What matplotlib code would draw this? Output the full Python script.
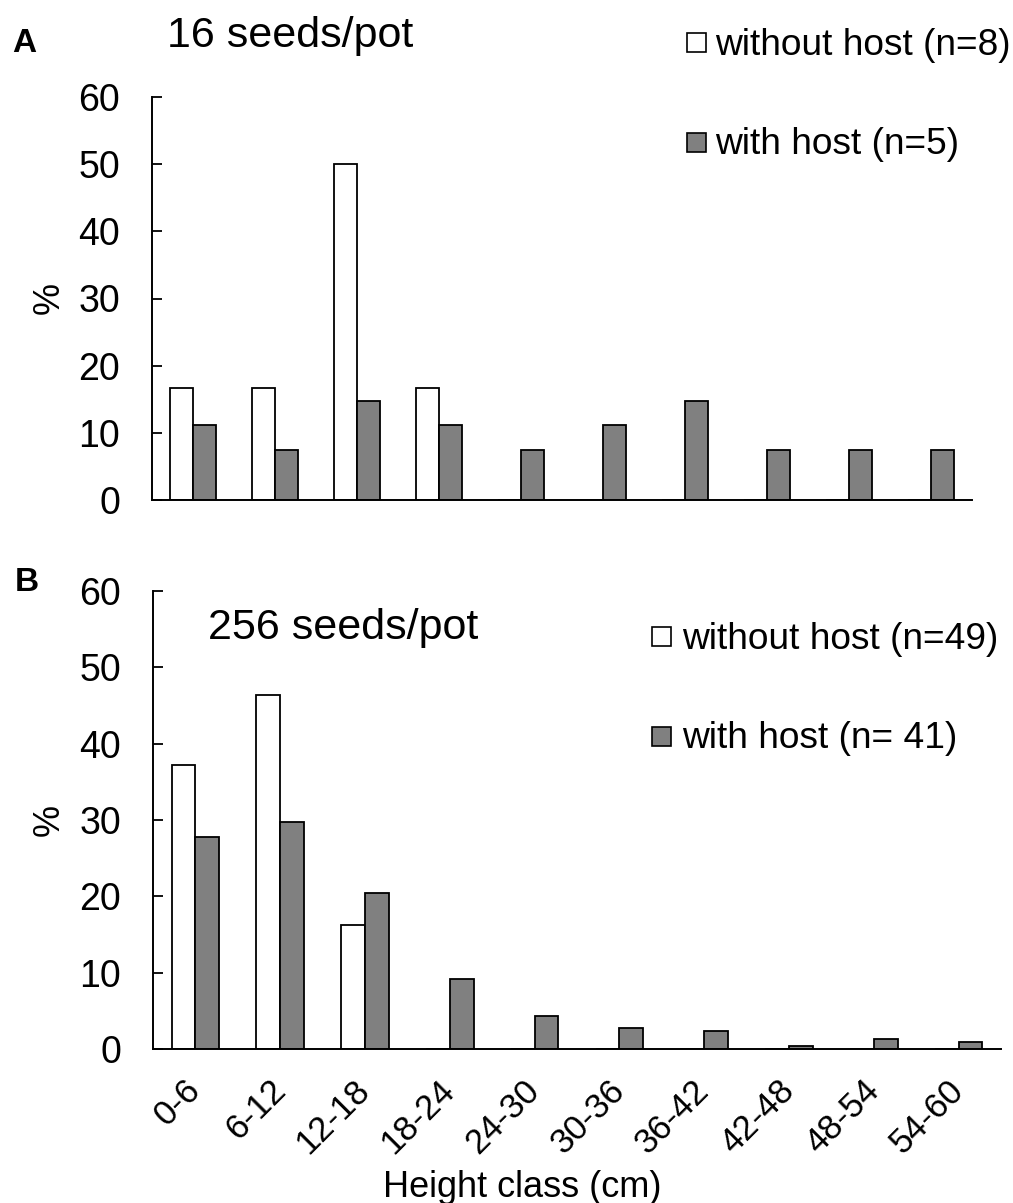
import numpy as np
import matplotlib
matplotlib.use("Agg")
import matplotlib.pyplot as plt
from matplotlib.patches import Rectangle

plt.rcParams['font.family'] = ['Liberation Sans', 'DejaVu Sans']

# Height classes (cm)
classes = ["0-6", "6-12", "12-18", "18-24", "24-30",
           "30-36", "36-42", "42-48", "48-54", "54-60"]

# 16 seeds/pot: % of plants per height class
low_without = [16.7, 16.7, 50.0, 16.7, 0, 0, 0, 0, 0, 0]
low_with = [11.1, 7.4, 14.8, 11.1, 7.4, 11.1, 14.8, 7.4, 7.4, 7.4]

# 256 seeds/pot: % of plants per height class
high_without = [37.2, 46.4, 16.2, 0, 0, 0, 0, 0, 0, 0]
high_with = [27.8, 29.7, 20.5, 9.2, 4.3, 2.8, 2.4, 0.4, 1.35, 0.9]

legend_low = ["without host (n=8)", "with host (n=5)"]
legend_high = ["without host (n=49)", "with host (n= 41)"]

W, H = 1013, 1203
DPI = 100
fig = plt.figure(figsize=(W / DPI, H / DPI), dpi=DPI)


def fx(x):
    return x / W


def fy(y):
    return 1 - y / H


WHITE = "white"
GREY = "#808080"
BAR_W = 0.28
LW = 1.3


def draw_panel(ax, without, with_host):
    x = np.arange(len(classes))
    ax.bar(x - BAR_W / 2, without, BAR_W, color=WHITE, edgecolor="black", linewidth=LW)
    ax.bar(x + BAR_W / 2, with_host, BAR_W, color=GREY, edgecolor="black", linewidth=LW)
    ax.set_xlim(-0.5, len(classes) - 0.5)
    ax.set_ylim(0, 60)
    ax.set_yticks(np.arange(0, 61, 10))
    ax.spines["top"].set_visible(False)
    ax.spines["right"].set_visible(False)
    ax.spines["left"].set_linewidth(1.4)
    ax.spines["bottom"].set_linewidth(1.4)
    ax.tick_params(axis="y", direction="in", length=7, width=1.3, pad=23, labelsize=27)
    ax.tick_params(axis="x", length=0)
    ax.set_xticks(x)


axA = fig.add_axes([fx(152), fy(500), (972 - 152) / W, (500 - 97) / H])
draw_panel(axA, low_without, low_with)
axA.set_xticklabels([])

axB = fig.add_axes([fx(153), fy(1049), (1001 - 153) / W, (1049 - 591) / H])
draw_panel(axB, high_without, high_with)
axB.set_xticklabels(classes, rotation=45, ha="right", va="center",
                    rotation_mode="anchor", fontsize=25)
axB.tick_params(axis="x", pad=26)

# Panel letters, titles and axis labels
fig.text(fx(24), fy(43), "A", fontsize=24, fontweight="bold", ha="center", va="center")
fig.text(fx(27), fy(582), "B", fontsize=24, fontweight="bold", ha="center", va="center")
fig.text(fx(167), fy(47), "16 seeds/pot", fontsize=31, ha="left", va="baseline")
fig.text(fx(208), fy(639), "256 seeds/pot", fontsize=31, ha="left", va="baseline")
fig.text(fx(49), fy(298), "%", fontsize=26, rotation=90, ha="center", va="center")
fig.text(fx(49), fy(820), "%", fontsize=26, rotation=90, ha="center", va="center")
fig.text(fx(522), fy(1197), "Height class (cm)", fontsize=26, ha="center", va="baseline")


def legend_rows(x_sq, rows, labels, text_x):
    for (top, baseline), label, color in zip(rows, labels, [WHITE, GREY]):
        sq = Rectangle((fx(x_sq), fy(top + 19)), 19 / W, 19 / H,
                       transform=fig.transFigure, facecolor=color,
                       edgecolor="black", linewidth=1.2)
        fig.add_artist(sq)
        fig.text(fx(text_x), fy(baseline), label, fontsize=26.7, ha="left", va="baseline")


legend_rows(687, [(33, 55), (133, 154)], legend_low, 715)
legend_rows(652, [(627, 649), (727, 748)], legend_high, 682)

fig.savefig("out.png", dpi=DPI)
